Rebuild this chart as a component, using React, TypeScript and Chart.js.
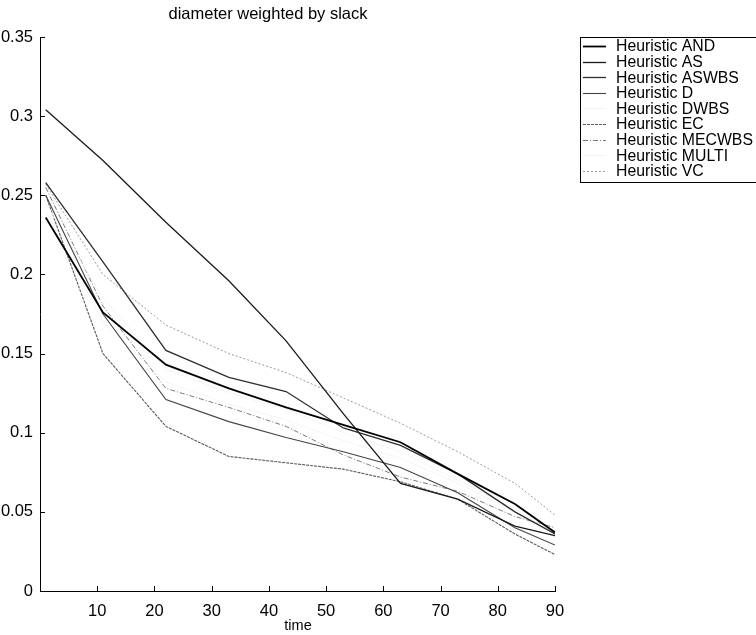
import React, { useEffect, useRef } from "react";
import { Chart, registerables } from "chart.js";

Chart.register(...registerables);

const TITLE = "diameter weighted by slack";
const X_LABEL = "time";
const times = [1, 11, 22, 33, 43, 53, 63, 73, 83, 90];
const xTicks = [10, 20, 30, 40, 50, 60, 70, 80, 90];
const yTicks = [0.05, 0.1, 0.15, 0.2, 0.25, 0.3, 0.35];

const seriesNames = [
  "Heuristic AND",
  "Heuristic AS",
  "Heuristic ASWBS",
  "Heuristic D",
  "Heuristic DWBS",
  "Heuristic EC",
  "Heuristic MECWBS",
  "Heuristic MULTI",
  "Heuristic VC",
];

const andValues = [0.236, 0.176, 0.143, 0.128, 0.116, 0.105, 0.094, 0.074, 0.055, 0.037];
const asValues = [0.304, 0.272, 0.233, 0.196, 0.158, 0.112, 0.068, 0.058, 0.041, 0.035];
const aswbsValues = [0.258, 0.208, 0.152, 0.135, 0.126, 0.103, 0.092, 0.074, 0.05, 0.036];
const dValues = [0.25, 0.175, 0.121, 0.107, 0.097, 0.088, 0.078, 0.062, 0.04, 0.029];
const dwbsValues = [0.245, 0.185, 0.14, 0.125, 0.115, 0.1, 0.088, 0.07, 0.052, 0.036];
const ecValues = [0.25, 0.15, 0.104, 0.085, 0.081, 0.077, 0.069, 0.058, 0.036, 0.023];
const mecwbsValues = [0.255, 0.18, 0.128, 0.116, 0.104, 0.086, 0.072, 0.063, 0.047, 0.04];
const multiValues = [0.24, 0.17, 0.132, 0.118, 0.108, 0.095, 0.084, 0.068, 0.05, 0.034];
const vcValues = [0.257, 0.2, 0.168, 0.15, 0.138, 0.122, 0.106, 0.088, 0.068, 0.048];

const allValues = [
  andValues,
  asValues,
  aswbsValues,
  dValues,
  dwbsValues,
  ecValues,
  mecwbsValues,
  multiValues,
  vcValues,
];

const colors = ["#000000", "#1a1a1a", "#2e2e2e", "#444444", "#f4f4f4", "#5a5a5a", "#7a7a7a", "#f4f4f4", "#9a9a9a"];
const widths = [1.8, 1.3, 1.3, 1.1, 1, 1.1, 1, 1, 1];
const dashes: number[][] = [[], [], [], [], [], [3, 1], [5, 2, 1, 2], [], [2, 2]];

const FONT = "Liberation Sans, Arial, Helvetica, sans-serif";

const decorPlugin = {
  id: "decor",
  afterDraw(chart: any) {
    const ctx = chart.ctx;
    const xs = chart.scales.x;
    const ys = chart.scales.y;
    const area = chart.chartArea;
    ctx.save();
    ctx.strokeStyle = "#000";
    ctx.lineWidth = 1;
    ctx.beginPath();
    yTicks.forEach((v) => {
      const py = Math.round(ys.getPixelForValue(v)) + 0.5;
      ctx.moveTo(area.left, py);
      ctx.lineTo(area.left + 5, py);
    });
    xTicks.forEach((v) => {
      const px = Math.round(xs.getPixelForValue(v)) + 0.5;
      ctx.moveTo(px, area.bottom);
      ctx.lineTo(px, area.bottom - 5);
    });
    ctx.stroke();

    ctx.fillStyle = "#000";
    ctx.textAlign = "center";
    ctx.textBaseline = "middle";
    ctx.font = `16.5px ${FONT}`;
    ctx.fillText(TITLE, 268, 14);
    ctx.font = `14.5px ${FONT}`;
    ctx.fillText(X_LABEL, 298, 626);

    const lx = 580;
    const ly = 37;
    const lw = 200;
    const lh = 145;
    ctx.strokeStyle = "#000";
    ctx.lineWidth = 1;
    ctx.strokeRect(lx + 0.5, ly + 0.5, lw, lh);
    ctx.font = `15.8px ${FONT}`;
    ctx.textAlign = "left";
    ctx.textBaseline = "middle";
    chart.data.datasets.forEach((ds: any, i: number) => {
      const y = 46 + 15.6 * i;
      ctx.save();
      ctx.strokeStyle = ds.borderColor;
      ctx.lineWidth = ds.borderWidth;
      ctx.setLineDash(ds.borderDash || []);
      ctx.beginPath();
      ctx.moveTo(583, Math.round(y) + 0.5);
      ctx.lineTo(606, Math.round(y) + 0.5);
      ctx.stroke();
      ctx.restore();
      ctx.fillStyle = "#000";
      ctx.fillText(ds.label, 616, y + 1);
    });
    ctx.restore();
  },
};

export default function App() {
  const ref = useRef<HTMLCanvasElement | null>(null);

  useEffect(() => {
    if (!ref.current) return;
    const chart = new Chart(ref.current, {
      type: "line",
      data: {
        datasets: seriesNames.map((name, i) => ({
          label: name,
          data: times.map((t, j) => ({ x: t, y: allValues[i][j] })),
          borderColor: colors[i],
          backgroundColor: colors[i],
          borderWidth: widths[i],
          borderDash: dashes[i],
          pointRadius: 0,
          tension: 0,
          fill: false,
        })),
      },
      options: {
        responsive: false,
        animation: false,
        devicePixelRatio: 1,
        layout: { padding: { top: 37, right: 201, left: 0, bottom: 0 } },
        plugins: {
          legend: { display: false },
          title: { display: false },
          tooltip: { enabled: false },
        },
        scales: {
          x: {
            type: "linear",
            min: 0,
            max: 90,
            grid: { display: false, drawTicks: false },
            border: { display: true, color: "#000", width: 1 },
            ticks: {
              stepSize: 10,
              padding: 11,
              color: "#000",
              font: { size: 16.5, family: FONT },
              maxRotation: 0,
              callback: (v: any) => (v === 0 ? "" : String(v)),
            },
            afterFit: (s: any) => {
              s.height = 44;
            },
          },
          y: {
            type: "linear",
            min: 0,
            max: 0.35,
            grid: { display: false, drawTicks: false },
            border: { display: true, color: "#000", width: 1 },
            ticks: {
              stepSize: 0.05,
              padding: 7,
              color: "#000",
              font: { size: 16.5, family: FONT },
              callback: (v: any) => String(Number(Number(v).toFixed(2))),
            },
            afterFit: (s: any) => {
              s.width = 40;
            },
          },
        },
      },
      plugins: [decorPlugin],
    });
    return () => chart.destroy();
  }, []);

  return (
    <div style={{ position: "absolute", left: 0, top: 0, width: 756, height: 635, background: "#fff" }}>
      <canvas ref={ref} width={756} height={635} style={{ display: "block" }} />
    </div>
  );
}
